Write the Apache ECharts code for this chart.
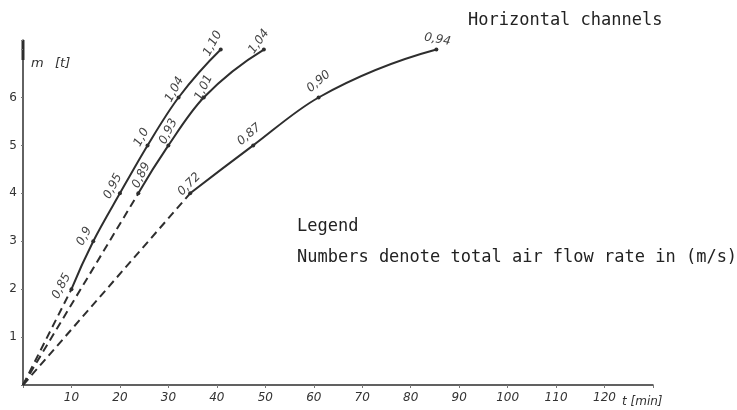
<!DOCTYPE html>
<html>
<head>
<meta charset="utf-8">
<script src="https://cdn.jsdelivr.net/npm/echarts@6/dist/echarts.min.js"></script>
<style>html,body{margin:0;padding:0;background:#fff}#c{width:737px;height:410px}</style>
</head>
<body>
<div id="c"></div>
<script>
// ---- data ----
const curve1T = [10, 14.5, 20, 25.7, 32.1, 40.8];
const curve1M = [2, 3, 4, 5, 6, 7];
const curve1Flow = ['0,85', '0,9', '0,95', '1,0', '1,04', '1,10'];

const curve2T = [23.8, 30, 37.3, 49.7];
const curve2M = [4, 5, 6, 7];
const curve2Flow = ['0,89', '0,93', '1,01', '1,04'];

const curve3T = [34.5, 47.5, 61, 85.3];
const curve3M = [4, 5, 6, 7];
const curve3Flow = ['0,72', '0,87', '0,90', '0,94'];

const originT = 0;
const originM = 0;

const xTickLabels = ['10','20','30','40','50','60','70','80','90','100','110','120'];
const yTickLabels = ['1','2','3','4','5','6'];

const titleText = 'Horizontal channels';
const legendTitle = 'Legend';
const legendText = 'Numbers denote total air flow rate in (m/s)';
const xName = 't [min]';
const yNameVar = 'm';
const yNameUnit = '[t]';

// ---- label placement (style only): screen offset dx, dy and rotation ----
const lab1 = [[-10,-3,62],[-9,-5,62],[-7,-7,62],[-6,-8,62],[-4,-8,62],[-8,-6,62]];
const lab2 = [[3,-18,64],[0,-14,64],[0,-10,64],[-5,-8,55]];
const lab3 = [[-1,-9,45],[-4,-11,40],[0,-16,40],[1,-10,-10]];

const ink = '#2e2e2e';

// smooth curve through the measured points, drawn in pixel space via the axes
function unit(v) { const l = Math.hypot(v[0], v[1]) || 1; return [v[0] / l, v[1] / l]; }
function curveSeries(T, M) {
  return {
    type: 'custom',
    coordinateSystem: 'cartesian2d',
    data: [[T[0], M[0]]],
    z: 3,
    silent: true,
    renderItem: function (params, api) {
      const P = T.map((t, i) => api.coord([t, M[i]]));
      const n = P.length;
      const tan = new Array(n);
      for (let i = 1; i < n - 1; i++) {
        const a = unit([P[i][0] - P[i - 1][0], P[i][1] - P[i - 1][1]]);
        const b = unit([P[i + 1][0] - P[i][0], P[i + 1][1] - P[i][1]]);
        tan[i] = unit([a[0] + b[0], a[1] + b[1]]);
      }
      const reflect = (c, t) => { const d = c[0] * t[0] + c[1] * t[1]; return [2 * d * c[0] - t[0], 2 * d * c[1] - t[1]]; };
      const c0 = unit([P[1][0] - P[0][0], P[1][1] - P[0][1]]);
      const cN = unit([P[n - 1][0] - P[n - 2][0], P[n - 1][1] - P[n - 2][1]]);
      tan[0] = n > 2 ? reflect(c0, tan[1]) : c0;
      tan[n - 1] = n > 2 ? reflect(cN, tan[n - 2]) : cN;
      const children = [];
      for (let i = 0; i < n - 1; i++) {
        const L = Math.hypot(P[i + 1][0] - P[i][0], P[i + 1][1] - P[i][1]) / 3;
        children.push({
          type: 'bezierCurve',
          shape: {
            x1: P[i][0], y1: P[i][1],
            cpx1: P[i][0] + tan[i][0] * L, cpy1: P[i][1] + tan[i][1] * L,
            cpx2: P[i + 1][0] - tan[i + 1][0] * L, cpy2: P[i + 1][1] - tan[i + 1][1] * L,
            x2: P[i + 1][0], y2: P[i + 1][1]
          },
          style: { stroke: ink, lineWidth: 2, fill: null }
        });
      }
      return { type: 'group', children };
    }
  };
}
// label offsets are applied in the rotated frame, so convert screen offsets
function localOffset(dx, dy, deg) {
  const r = deg * Math.PI / 180, c = Math.cos(r), s = Math.sin(r);
  return [dx * c - dy * s, dx * s + dy * c];
}
function pointSeries(T, M, F, L) {
  return {
    type: 'line',
    symbol: 'circle',
    symbolSize: 4,
    itemStyle: { color: ink },
    lineStyle: { width: 0, opacity: 0 },
    data: T.map((t, i) => ({
      value: [t, M[i]],
      label: {
        show: true,
        formatter: F[i],
        position: 'inside',
        align: 'center',
        verticalAlign: 'middle',
        rotate: L[i][2],
        offset: localOffset(L[i][0], L[i][1], L[i][2]),
        fontFamily: 'DejaVu Sans',
        fontStyle: 'italic',
        fontSize: 12,
        color: '#444'
      }
    })),
    z: 4
  };
}
function dashedSeries(T, M) {
  return {
    type: 'line',
    symbol: 'none',
    lineStyle: { color: ink, width: 2, type: [8, 5] },
    data: [[originT, originM], [T[0], M[0]]],
    z: 2
  };
}

const chart = echarts.init(document.getElementById('c'), null, { renderer: 'canvas' });
chart.setOption({
  animation: false,
  backgroundColor: '#fff',
  grid: { left: 23, right: 84, top: 40, bottom: 25 },
  xAxis: {
    type: 'value', min: 0, max: 130, interval: 10,
    axisLine: { show: true, lineStyle: { color: ink, width: 1.5 } },
    axisTick: { show: true, length: 3, lineStyle: { color: '#777' } },
    splitLine: { show: false },
    axisLabel: {
      formatter: v => { const i = xTickLabels.indexOf(String(v)); return i >= 0 ? xTickLabels[i] : ''; },
      fontFamily: 'DejaVu Sans', fontStyle: 'italic', fontSize: 12, color: '#333', margin: 7
    }
  },
  yAxis: {
    type: 'value', min: 0, max: 7.2, interval: 1,
    axisLine: { show: true, lineStyle: { color: ink, width: 1.5 } },
    axisTick: { show: true, length: 2, lineStyle: { color: '#777' } },
    splitLine: { show: false },
    axisLabel: {
      formatter: v => { const i = yTickLabels.indexOf(String(v)); return i >= 0 ? yTickLabels[i] : ''; },
      fontFamily: 'DejaVu Sans', fontSize: 12, color: '#333', margin: 6
    }
  },
  graphic: [
    { type: 'text', left: 468, top: 12, style: { text: titleText, font: '17px "DejaVu Sans Mono"', fill: '#222' } },
    { type: 'text', left: 297, top: 218, style: { text: legendTitle, font: '17px "DejaVu Sans Mono"', fill: '#222' } },
    { type: 'text', left: 297, top: 249, style: { text: legendText, font: '17px "DejaVu Sans Mono"', fill: '#222' } },
    { type: 'text', left: 622, top: 396, style: { text: xName, font: 'italic 12px "DejaVu Sans"', fill: '#333' } },
    { type: 'text', left: 31, top: 57, style: { text: yNameVar, font: 'italic 13px "DejaVu Sans"', fill: '#333' } },
    { type: 'text', left: 55, top: 57, style: { text: yNameUnit, font: 'italic 13px "DejaVu Sans"', fill: '#333' } },
    { type: 'line', shape: { x1: 23, y1: 40, x2: 23, y2: 60 }, style: { stroke: ink, lineWidth: 3 } }
  ],
  series: [
    dashedSeries(curve1T, curve1M),
    dashedSeries(curve2T, curve2M),
    dashedSeries(curve3T, curve3M),
    curveSeries(curve1T, curve1M),
    curveSeries(curve2T, curve2M),
    curveSeries(curve3T, curve3M),
    pointSeries(curve1T, curve1M, curve1Flow, lab1),
    pointSeries(curve2T, curve2M, curve2Flow, lab2),
    pointSeries(curve3T, curve3M, curve3Flow, lab3)
  ]
});
</script>
</body>
</html>
